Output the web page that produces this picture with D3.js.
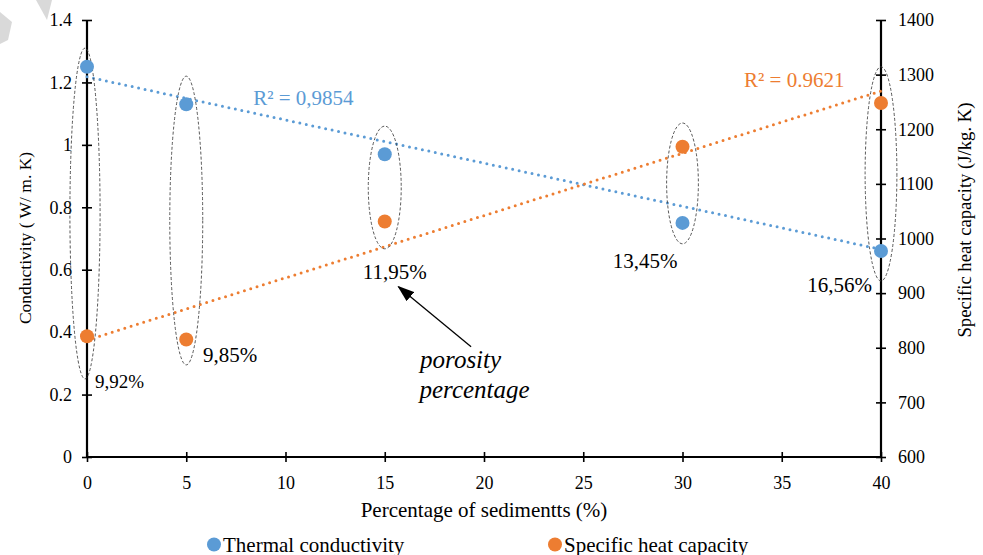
<!DOCTYPE html>
<html>
<head>
<meta charset="utf-8">
<script src="https://cdn.jsdelivr.net/npm/d3@7"></script>
<style>
  body { margin: 0; background: #fff; }
  svg text { font-family: "Liberation Serif", "Times New Roman", serif; }
</style>
</head>
<body>
<div id="chart"></div>
<script>

// --------------------------------------
//  Data
// --------------------------------------

const sediments = [0, 5, 15, 30, 40];
const conductivity = [1.25, 1.13, 0.97, 0.75, 0.66];
const heatCapacity = [821, 815, 1031, 1168, 1248];
const porosityLabels = ["9,92%", "9,85%", "11,95%", "13,45%", "16,56%"];

// trendline end points
const trendConductivity = [[0, 1.218], [40, 0.665]];
const trendHeat = [[0, 814], [40, 1270]];

// ellipse groups: top/bottom in conductivity units
const groupTop = [1.31, 1.22, 1.06, 1.07, 1.25];
const groupBottom = [0.25, 0.295, 0.667, 0.683, 0.564];

const xTicks = [0, 5, 10, 15, 20, 25, 30, 35, 40];
const leftTicks = [0, 0.2, 0.4, 0.6, 0.8, 1, 1.2, 1.4];
const rightTicks = [600, 700, 800, 900, 1000, 1100, 1200, 1300, 1400];

// --------------------------------------
//  Margin and canvas
// --------------------------------------

const width = 983;
const height = 555;
const margin = {top: 20, right: 102, bottom: 98, left: 87};
const innerwidth = width - margin.left - margin.right;
const innerheight = height - margin.top - margin.bottom;

const blue = "#5b9bd5";
const orange = "#ed7d31";
const serif = "Liberation Serif";

const svg = d3.select("#chart")
  .append("svg")
    .attr("width", width)
    .attr("height", height)
    .attr("font-family", serif);

// grey watermark fragment, top left corner
svg.append("path")
  .attr("d", "M0,12 L12,22 L8,40 L0,44 Z")
  .attr("fill", "#d9d9d9");
svg.append("path")
  .attr("d", "M36,0 L52,0 L47,20 Z")
  .attr("fill", "#d9d9d9");

const innerChart = svg
  .append("g")
    .attr("transform", `translate(${margin.left}, ${margin.top})`);

// --------------------------------------
//  Scales
// --------------------------------------

let x = d3.scaleLinear()
    .domain([0, 40])
    .range([0, innerwidth]);

let yL = d3.scaleLinear()
    .domain([0, 1.4])
    .range([innerheight, 0]);

let yR = d3.scaleLinear()
    .domain([600, 1400])
    .range([innerheight, 0]);

// --------------------------------------
//  Axes
// --------------------------------------

const fmt = d => String(+d.toFixed(1));

const gx = innerChart.append("g")
    .attr("transform", `translate(0, ${innerheight})`)
    .call(d3.axisBottom(x).tickValues(xTicks).tickSize(5).tickPadding(14).tickFormat(fmt));
gx.selectAll(".tick line").attr("y1", -5);

const gl = innerChart.append("g")
    .call(d3.axisLeft(yL).tickValues(leftTicks).tickSize(5).tickPadding(10).tickFormat(fmt));
gl.selectAll(".tick line").attr("x1", 5);

const gr = innerChart.append("g")
    .attr("transform", `translate(${innerwidth}, 0)`)
    .call(d3.axisRight(yR).tickValues(rightTicks).tickSize(5).tickPadding(12).tickFormat(fmt));
gr.selectAll(".tick line").attr("x1", -5);

[gx, gl, gr].forEach(g => {
  g.attr("font-family", serif).attr("font-size", 18);
  g.select(".domain").attr("stroke", "#000").attr("stroke-width", 2.2);
  g.selectAll(".tick line").attr("stroke", "#000").attr("stroke-width", 1.6);
  g.selectAll(".tick text").attr("fill", "#000");
});
gx.select(".domain").attr("d", `M0,0H${innerwidth}`);
gl.select(".domain").attr("d", `M0,${innerheight}V0`);
gr.select(".domain").attr("d", `M0,${innerheight}V0`);

// axis titles
svg.append("text")
  .attr("transform", `translate(25, 238) rotate(-90)`)
  .attr("text-anchor", "middle")
  .attr("dominant-baseline", "central")
  .attr("font-size", 17.5)
  .text("Conductivity ( W/ m. K)");

svg.append("text")
  .attr("transform", `translate(964, 220) rotate(-90)`)
  .attr("text-anchor", "middle")
  .attr("dominant-baseline", "central")
  .attr("font-size", 18.7)
  .text("Specific heat capacity (J/kg. K)");

svg.append("text")
  .attr("x", margin.left + innerwidth / 2)
  .attr("y", 517)
  .attr("text-anchor", "middle")
  .attr("font-size", 21)
  .text("Percentage of sedimentts (%)");

// --------------------------------------
//  Trendlines
// --------------------------------------

innerChart.append("line")
    .attr("x1", x(trendConductivity[0][0]))
    .attr("y1", yL(trendConductivity[0][1]))
    .attr("x2", x(trendConductivity[1][0]))
    .attr("y2", yL(trendConductivity[1][1]))
    .attr("stroke", blue)
    .attr("stroke-width", 3)
    .attr("stroke-linecap", "round")
    .attr("stroke-dasharray", "0 6.6");

innerChart.append("line")
    .attr("x1", x(trendHeat[0][0]))
    .attr("y1", yR(trendHeat[0][1]))
    .attr("x2", x(trendHeat[1][0]))
    .attr("y2", yR(trendHeat[1][1]))
    .attr("stroke", orange)
    .attr("stroke-width", 3)
    .attr("stroke-linecap", "round")
    .attr("stroke-dasharray", "0 6.6");

// --------------------------------------
//  Ellipses around each group
// --------------------------------------

const groupW = [0.76, 0.83, 0.83, 0.8, 0.8];

innerChart
    .selectAll(".group")
    .data(sediments)
    .join("ellipse")
    .attr("class", "group")
    .attr("cx", (d, i) => x(d) - (i === 0 ? 2 : 0))
    .attr("cy", (d, i) => (yL(groupTop[i]) + yL(groupBottom[i])) / 2)
    .attr("rx", (d, i) => x(groupW[i]) - x(0))
    .attr("ry", (d, i) => (yL(groupBottom[i]) - yL(groupTop[i])) / 2)
    .attr("fill", "none")
    .attr("stroke", "#444")
    .attr("stroke-width", 0.9)
    .attr("stroke-dasharray", "3 2");

// --------------------------------------
//  Points
// --------------------------------------

innerChart
    .selectAll(".cond")
    .data(sediments)
    .join("circle")
    .attr("class", "cond")
    .attr("cx", d => x(d))
    .attr("cy", (d, i) => yL(conductivity[i]))
    .attr("r", 7)
    .attr("fill", blue);

innerChart
    .selectAll(".heat")
    .data(sediments)
    .join("circle")
    .attr("class", "heat")
    .attr("cx", d => x(d))
    .attr("cy", (d, i) => yR(heatCapacity[i]))
    .attr("r", 7)
    .attr("fill", orange);

// --------------------------------------
//  Labels
// --------------------------------------

// porosity label positions, relative to each group (x units, conductivity units)
const labelDx = [0.4, 0.84, -1.11, -3.52, -3.71];
const labelY = [0.221, 0.305, 0.570, 0.606, 0.529];
const labelSize = [19, 21, 21, 21, 21];

innerChart
    .selectAll(".plabel")
    .data(porosityLabels)
    .join("text")
    .attr("class", "plabel")
    .attr("x", (d, i) => x(sediments[i] + labelDx[i]))
    .attr("y", (d, i) => yL(labelY[i]))
    .attr("font-size", (d, i) => labelSize[i])
    .text(d => d);

innerChart.append("text")
    .attr("x", x(8.37))
    .attr("y", yL(1.128))
    .attr("font-size", 21)
    .attr("fill", blue)
    .text("R² = 0,9854");

innerChart.append("text")
    .attr("x", x(33.1))
    .attr("y", yR(1277))
    .attr("font-size", 21)
    .attr("fill", orange)
    .text("R² = 0.9621");

// porosity percentage annotation
const note = innerChart.append("text")
    .attr("font-size", 25)
    .attr("font-style", "italic");
note.append("tspan").attr("x", x(16.78)).attr("y", yL(0.285)).text("porosity");
note.append("tspan").attr("x", x(16.75)).attr("y", yL(0.189)).text("percentage");

svg.append("defs").append("marker")
    .attr("id", "arrow")
    .attr("viewBox", "0 0 10 10")
    .attr("refX", 9)
    .attr("refY", 5)
    .attr("markerWidth", 17)
    .attr("markerHeight", 12)
    .attr("markerUnits", "userSpaceOnUse")
    .attr("orient", "auto")
    .attr("preserveAspectRatio", "none")
  .append("path")
    .attr("d", "M0,0 L10,5 L0,10 Z")
    .attr("fill", "#000");

innerChart.append("line")
    .attr("x1", x(19.35))
    .attr("y1", yL(0.3535))
    .attr("x2", x(15.7))
    .attr("y2", yL(0.545))
    .attr("stroke", "#000")
    .attr("stroke-width", 1.3)
    .attr("marker-end", "url(#arrow)");

// --------------------------------------
//  Legend
// --------------------------------------

const legendNames = ["Thermal conductivity", "Specific heat capacity"];
const legendColors = [blue, orange];
const legendX = [214, 555];

const legend = svg.selectAll(".legend")
    .data(legendNames)
    .join("g")
    .attr("class", "legend")
    .attr("transform", (d, i) => `translate(${legendX[i]}, 544.5)`);

legend.append("circle")
    .attr("r", 7)
    .attr("fill", (d, i) => legendColors[i]);

legend.append("text")
    .attr("x", 9)
    .attr("y", 7)
    .attr("font-size", 21)
    .text(d => d);

</script>
</body>
</html>
